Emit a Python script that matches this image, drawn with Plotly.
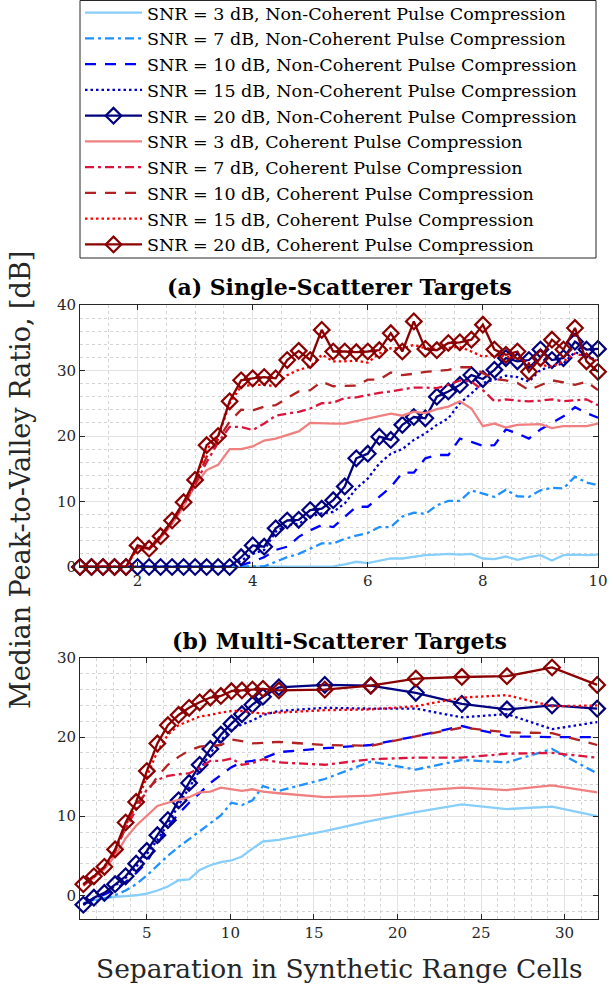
import plotly.graph_objects as go

# ---------------- data: (a) single-scatterer targets ----------------
sep_a = [1.0, 1.2, 1.4, 1.6, 1.8, 2.0, 2.2, 2.4, 2.6, 2.8, 3.0, 3.2, 3.4, 3.6, 3.8,
         4.0, 4.2, 4.4, 4.6, 4.8, 5.0, 5.2, 5.4, 5.6, 5.8, 6.0, 6.2, 6.4, 6.6, 6.8,
         7.0, 7.2, 7.4, 7.6, 7.8, 8.0, 8.2, 8.4, 8.6, 8.8, 9.0, 9.2, 9.4, 9.6, 9.8, 10.0]

nc3_a = [0] * 22 + [0.1, 0.4, 0.8, 0.6, 1.0, 1.3, 1.3, 1.6, 1.8, 1.9, 2.0, 1.9, 2.0,
                    1.3, 1.2, 1.6, 1.1, 1.5, 1.8, 1.0, 1.8, 1.9, 1.8, 1.9]
nc7_a = [0] * 16 + [0.1, 0.8, 1.5, 2.0, 2.8, 3.6, 3.6, 4.3, 4.8, 5.2, 6.1, 6.1, 7.7, 8.3,
                    8.1, 9.4, 10.1, 10.1, 11.7, 11.2, 10.7, 11.8, 10.8, 10.7, 11.7, 12.1,
                    12.0, 13.8, 12.9, 12.5]
nc10_a = [0] * 14 + [0.3, 0.8, 1.5, 2.6, 3.1, 4.6, 5.6, 6.4, 6.1, 7.7, 9.2, 9.2, 10.7, 12.2,
                     14.4, 14.4, 16.6, 17.1, 17.1, 19.6, 19.1, 18.5, 18.6, 21.0, 20.4, 19.6,
                     21.0, 22.0, 23.0, 24.4, 23.5, 22.8]
nc15_a = [0] * 14 + [1.0, 2.0, 2.6, 5.4, 6.4, 6.6, 7.7, 8.2, 8.4, 9.7, 12.0, 13.5, 15.8, 17.3,
                     18.0, 19.4, 20.4, 21.7, 22.7, 25.0, 26.5, 28.1, 28.6, 29.2, 29.0, 28.3,
                     30.1, 30.6, 31.1, 32.8, 32.1, 31.6]
nc20_a = [0] * 14 + [1.5, 3.3, 3.1, 5.9, 7.1, 7.2, 8.7, 8.9, 10.2, 12.3, 16.6, 17.3, 19.9, 19.4,
                     21.7, 22.9, 22.7, 26.0, 26.8, 27.8, 29.3, 28.7, 30.1, 31.9, 31.4, 31.6,
                     33.2, 31.6, 31.9, 34.4, 33.2, 33.3]
c3_a = [0, 0, 0, 0, 0, 3.0, 2.7, 4.4, 6.6, 9.2, 12.5, 14.8, 15.6, 18.0, 18.0, 18.4, 19.3,
        19.6, 20.2, 20.7, 22.0, 21.9, 21.9, 21.9, 22.3, 22.7, 23.1, 23.4, 23.1, 23.7, 23.5,
        24.1, 24.5, 25.3, 24.2, 21.5, 21.9, 21.3, 21.7, 21.7, 21.8, 21.2, 21.5, 21.5, 21.5, 21.9]
c7_a = [0, 0, 0, 0, 0, 3.0, 2.7, 4.5, 6.8, 9.5, 12.6, 16.0, 19.0, 21.4, 21.4, 20.9, 21.9,
        23.1, 23.4, 23.7, 24.2, 25.0, 25.1, 25.8, 25.9, 26.3, 26.6, 26.8, 27.1, 27.4, 27.4,
        27.3, 27.8, 28.5, 28.3, 27.0, 25.3, 25.6, 25.4, 25.3, 25.4, 25.6, 25.3, 25.4, 25.6, 24.7]
c10_a = [0, 0, 0, 0, 0, 3.0, 2.8, 4.6, 7.0, 9.6, 12.8, 16.8, 19.5, 22.2, 24.0, 23.9, 24.5,
         24.7, 25.8, 26.8, 27.0, 28.3, 27.6, 27.6, 27.7, 28.6, 28.6, 29.7, 29.3, 29.5, 29.8,
         29.9, 30.1, 30.5, 30.5, 29.6, 28.7, 28.5, 28.1, 27.0, 27.8, 28.5, 28.2, 27.8, 28.3, 27.0]
c15_a = [0, 0, 0, 0, 0, 3.0, 2.9, 4.8, 7.0, 9.8, 13.0, 18.0, 19.8, 25.0, 27.6, 27.8, 27.8,
         27.6, 29.3, 30.1, 30.6, 32.4, 31.4, 31.4, 31.5, 31.2, 32.6, 33.4, 33.4, 33.9, 33.4,
         33.3, 33.4, 33.6, 32.9, 32.1, 32.4, 32.1, 31.9, 31.1, 30.9, 30.6, 31.4, 32.6, 32.1, 31.4]
c20_a = [0, 0, 0, 0, 0, 3.3, 2.8, 4.7, 7.1, 9.9, 13.3, 18.6, 20.0, 25.3, 28.5, 28.8, 29.0,
         28.8, 31.6, 33.0, 31.6, 36.2, 32.9, 32.9, 32.8, 32.9, 33.1, 35.7, 32.9, 37.5, 33.3,
         33.1, 34.2, 34.3, 34.7, 37.0, 33.2, 32.4, 32.9, 29.8, 31.9, 34.7, 33.2, 36.5, 31.4, 29.8]

# ---------------- data: (b) multi-scatterer targets ----------------
sep_b = [1.2, 1.83, 2.46, 3.1, 3.73, 4.36, 5.0, 5.63, 6.26, 6.9, 7.53, 8.16, 8.8, 9.43,
         10.06, 10.69, 11.32, 11.95, 12.9, 15.65, 18.4, 21.1, 23.85, 26.55, 29.25, 31.95]

nc3_b = [-1.0, -0.6, -0.4, -0.2, -0.1, 0.0, 0.2, 0.6, 1.1, 1.9, 2.0, 3.2, 3.8, 4.2, 4.4,
         4.9, 5.9, 6.8, 7.0, 8.1, 9.4, 10.5, 11.5, 10.9, 11.2, 10.0]
nc7_b = [-1.1, -0.8, -0.4, 0.0, 0.6, 1.4, 2.5, 3.8, 5.0, 6.1, 7.1, 8.1, 9.0, 10.1, 11.7,
         11.4, 12.0, 13.8, 13.2, 14.7, 16.9, 15.9, 17.1, 16.8, 18.5, 15.4]
nc10_b = [-1.1, -0.5, 0.0, 0.7, 1.7, 2.8, 4.2, 6.5, 8.7, 10.3, 11.7, 12.9, 14.2, 15.2, 16.2,
          16.8, 17.0, 17.3, 18.1, 18.6, 19.0, 20.1, 21.4, 20.1, 20.0, 20.0]
nc15_b = [-1.2, -0.4, 0.2, 1.2, 2.2, 3.6, 5.2, 7.0, 9.0, 11.4, 13.6, 15.8, 18.0, 19.6, 21.0,
          21.6, 22.1, 22.8, 23.3, 23.7, 23.6, 23.6, 22.5, 22.9, 21.0, 21.9]
nc20_b = [-1.2, -0.3, 0.3, 1.4, 2.4, 4.0, 5.6, 7.6, 9.5, 12.0, 14.2, 16.5, 18.5, 20.3, 21.7,
          22.9, 24.1, 25.1, 26.3, 26.6, 26.5, 25.6, 24.2, 23.5, 24.0, 23.6]
c3_b = [1.2, 2.2, 3.3, 5.0, 7.2, 8.8, 10.0, 11.3, 11.7, 12.1, 12.4, 13.0, 13.1, 13.6, 13.4,
        13.2, 13.4, 13.1, 12.9, 12.4, 12.6, 13.2, 13.6, 13.3, 13.9, 13.0]
c7_b = [1.3, 2.3, 3.5, 5.5, 8.5, 10.8, 13.4, 14.6, 15.1, 15.3, 15.4, 16.1, 17.0, 17.0, 17.3,
        16.5, 16.7, 17.2, 16.8, 16.5, 17.2, 17.4, 17.4, 17.9, 18.0, 17.4]
c10_b = [1.3, 2.4, 3.6, 5.6, 8.9, 11.5, 13.0, 15.0, 16.5, 17.5, 18.3, 18.8, 18.9, 19.0, 19.7,
         19.5, 19.2, 19.3, 19.4, 19.0, 18.9, 20.1, 21.2, 20.6, 20.5, 19.0]
c15_b = [1.3, 2.4, 3.6, 5.6, 8.8, 11.4, 15.0, 18.2, 20.3, 21.5, 22.0, 22.6, 22.8, 23.1, 23.3,
         23.3, 23.1, 23.0, 23.1, 23.4, 23.5, 23.9, 25.0, 25.3, 23.9, 24.0]
c20_b = [1.4, 2.4, 3.6, 5.8, 9.2, 11.8, 15.7, 19.2, 21.5, 22.8, 23.7, 24.4, 25.0, 25.2, 25.8,
         25.9, 26.0, 26.1, 25.9, 26.0, 26.5, 27.4, 27.6, 27.7, 28.8, 26.6]

snr_levels = ["3", "7", "10", "15", "20"]
tick_a_x = [2, 4, 6, 8, 10]
tick_a_y = [0, 10, 20, 30, 40]
tick_b_x = [5, 10, 15, 20, 25, 30]
tick_b_y = [0, 10, 20, 30]

# ---------------- styles ----------------
SERIF = "DejaVu Serif"
AX = "#262626"
nc_colors = ["#87CEFA", "#1E90FF", "#0000FF", "#0000CD", "#000080"]
c_colors = ["#F08080", "#DC143C", "#B22222", "#FF0000", "#8B0000"]
dashes = ["solid", "9px,4px,3px,4px", "11px,9px", "2.5px,3px", "solid"]

series_a = [nc3_a, nc7_a, nc10_a, nc15_a, nc20_a, c3_a, c7_a, c10_a, c15_a, c20_a]
series_b = [nc3_b, nc7_b, nc10_b, nc15_b, nc20_b, c3_b, c7_b, c10_b, c15_b, c20_b]

fig = go.Figure()

for k in range(10):
    coherent = k >= 5
    i = k % 5
    color = (c_colors if coherent else nc_colors)[i]
    kind = "Coherent" if coherent else "Non-Coherent"
    name = f"SNR = {snr_levels[i]} dB, {kind} Pulse Compression"
    with_marker = i == 4
    mode = "lines+markers" if with_marker else "lines"
    marker = dict(symbol="diamond-open", size=12, color=color, line=dict(width=2.2, color=color))
    for sep, vals, xa, ya, show in ((sep_a, series_a[k], "x", "y", True),
                                     (sep_b, series_b[k], "x2", "y2", False)):
        fig.add_trace(go.Scatter(
            x=sep, y=vals, xaxis=xa, yaxis=ya, mode=mode, name=name,
            legendgroup=name, showlegend=show,
            line=dict(color=color, width=2.3, dash=dashes[i]),
            marker=marker if with_marker else None,
            cliponaxis=not with_marker,
        ))

H = 986.0
def py(px):
    return 1 - px / H

axis_common = dict(
    showline=True, linecolor=AX, linewidth=1, mirror="ticks",
    ticks="inside", ticklen=5, tickcolor=AX, tickwidth=1,
    showgrid=True, gridcolor="#e3e3e3", gridwidth=1, zeroline=False,
    automargin=False,
    tickfont=dict(family=SERIF, size=15, color=AX),
)

fig.update_layout(
    width=613, height=986,
    margin=dict(l=80, r=15, t=0, b=0, autoexpand=False),
    plot_bgcolor="white", paper_bgcolor="white",
    xaxis=dict(domain=[0, 1], range=[1, 10], anchor="y", tickvals=tick_a_x,
               minor=dict(dtick=0.5, showgrid=True, griddash="dot", gridcolor="#d4d4d4", ticks=""),
               **axis_common),
    yaxis=dict(domain=[py(567), py(305)], range=[0, 40], anchor="x", tickvals=tick_a_y,
               minor=dict(dtick=2, showgrid=True, griddash="dot", gridcolor="#d4d4d4", ticks=""),
               **axis_common),
    xaxis2=dict(domain=[0, 1], range=[1, 32], anchor="y2", tickvals=tick_b_x,
                minor=dict(dtick=1, showgrid=True, griddash="dot", gridcolor="#d4d4d4", ticks=""),
                **axis_common),
    yaxis2=dict(domain=[py(919), py(658)], range=[-3, 30], anchor="x2", tickvals=tick_b_y,
                minor=dict(dtick=2, showgrid=True, griddash="dot", gridcolor="#d4d4d4", ticks=""),
                **axis_common),
    legend=dict(x=0, y=1 + 5.2 / H, xanchor="left", yanchor="top", bgcolor="rgba(0,0,0,0)",
                borderwidth=0, font=dict(family=SERIF, size=17.5, color="black"),
                itemwidth=57, tracegroupgap=0),
    showlegend=True,
    shapes=[dict(type="rect", xref="paper", yref="paper", x0=0, x1=(596 - 80) / 518,
                 y0=py(258), y1=py(0.5), line=dict(color=AX, width=1), fillcolor="white",
                 layer="above")],
    annotations=[
        dict(text="<b>(a) Single-Scatterer Targets</b>", x=0.5, y=py(287), xref="paper",
             yref="paper", showarrow=False, yanchor="middle",
             font=dict(family=SERIF, size=22, color="black")),
        dict(text="<b>(b) Multi-Scatterer Targets</b>", x=0.5, y=py(641), xref="paper",
             yref="paper", showarrow=False, yanchor="middle",
             font=dict(family=SERIF, size=22, color="black")),
        dict(text="Median Peak-to-Valley Ratio, [dB]", x=(20 - 80) / 518, y=py(480),
             xref="paper", yref="paper", showarrow=False, textangle=-90,
             xanchor="center", yanchor="middle",
             font=dict(family=SERIF, size=27, color=AX)),
        dict(text="Separation in Synthetic Range Cells", x=0.5, y=py(968), xref="paper",
             yref="paper", showarrow=False, yanchor="middle",
             font=dict(family=SERIF, size=26.5, color=AX)),
    ],
)

fig.write_html("out.html")
